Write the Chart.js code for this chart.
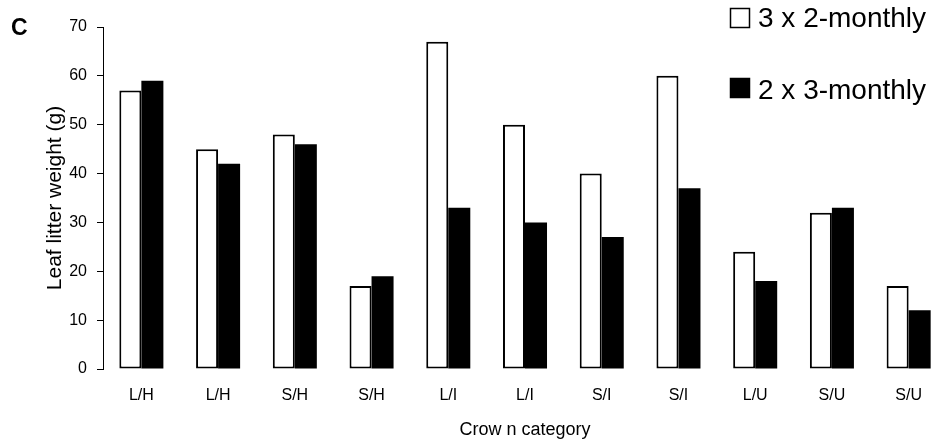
<!DOCTYPE html>
<html>
<head>
<meta charset="utf-8">
<script src="https://cdn.jsdelivr.net/npm/chart.js@4/dist/chart.umd.min.js"></script>
<style>
  html, body { margin: 0; padding: 0; background: #fff; }
  #wrap { position: relative; width: 947px; height: 441px; }
</style>
</head>
<body>
<div id="wrap"><canvas id="chart" width="947" height="441"></canvas></div>
<script>
// crown categories along the x axis
const categories = ['L/H', 'L/H', 'S/H', 'S/H', 'L/I', 'L/I', 'S/I', 'S/I', 'L/U', 'S/U', 'S/U'];
// leaf litter weight (g) per collection regime
const threeByTwoMonthly = [57, 45, 48, 17, 67, 50, 40, 60, 24, 32, 17];
const twoByThreeMonthly = [59, 42, 46, 19, 33, 30, 27, 37, 18, 33, 12];
const seriesNames = ['3 x 2-monthly', '2 x 3-monthly'];
const yMin = 0, yMax = 70, yStep = 10;

const FONT = 'Liberation Sans, Arial, sans-serif';

// legend in the top right corner + the panel letter
const cornerText = {
    id: 'cornerText',
    afterDraw(chart) {
        const ctx = chart.ctx;
        ctx.save();
        ctx.fillStyle = '#000';
        ctx.font = 'bold 23px ' + FONT;
        ctx.textBaseline = 'alphabetic';
        ctx.fillText('C', 11, 35);

        const rows = [{ y: 8, base: 27 }, { y: 78, base: 99 }];
        chart.data.datasets.forEach((ds, i) => {
            const r = rows[i];
            ctx.fillStyle = ds.backgroundColor;
            ctx.fillRect(730, r.y, 20, 20);
            ctx.strokeStyle = '#000';
            ctx.lineWidth = 1.5;
            ctx.strokeRect(730.5, r.y + 0.5, 19, 19);
            ctx.fillStyle = '#000';
            ctx.font = '28px ' + FONT;
            ctx.fillText(ds.label, 758, r.base);
        });
        ctx.restore();
    }
};

new Chart(document.getElementById('chart'), {
    type: 'bar',
    data: {
        labels: categories,
        datasets: [{
            label: seriesNames[0],
            data: threeByTwoMonthly,
            backgroundColor: '#ffffff',
            borderColor: '#000000',
            borderWidth: 2,
            borderSkipped: false
        }, {
            label: seriesNames[1],
            data: twoByThreeMonthly,
            backgroundColor: '#000000',
            borderColor: '#000000',
            borderWidth: 0
        }]
    },
    options: {
        responsive: false,
        animation: false,
        layout: { padding: { top: 27, right: 0, left: 0, bottom: 0 } },
        datasets: { bar: { categoryPercentage: 0.574, barPercentage: 1 } },
        plugins: {
            legend: { display: false },
            tooltip: { enabled: false }
        },
        scales: {
            x: {
                grid: { display: false, drawTicks: false },
                border: { display: false },
                ticks: { color: '#000', font: { family: FONT, size: 16 }, padding: 17 },
                title: {
                    display: true,
                    text: 'Crow n category',
                    color: '#000',
                    font: { family: FONT, size: 18 },
                    padding: { top: 0, bottom: 0 }
                },
                afterFit(scale) { scale.height = 72; }
            },
            y: {
                min: yMin,
                max: yMax,
                ticks: { stepSize: yStep, color: '#000', font: { family: FONT, size: 16 }, padding: 10 },
                grid: { drawOnChartArea: false, drawTicks: true, tickLength: 6, color: '#000' },
                border: { display: true, color: '#000', width: 1 },
                title: {
                    display: true,
                    text: 'Leaf litter weight (g)',
                    color: '#000',
                    font: { family: FONT, size: 21 },
                    padding: { top: 43, bottom: 0 }
                },
                afterFit(scale) { scale.width = 103; }
            }
        }
    },
    plugins: [cornerText]
});
</script>
</body>
</html>
